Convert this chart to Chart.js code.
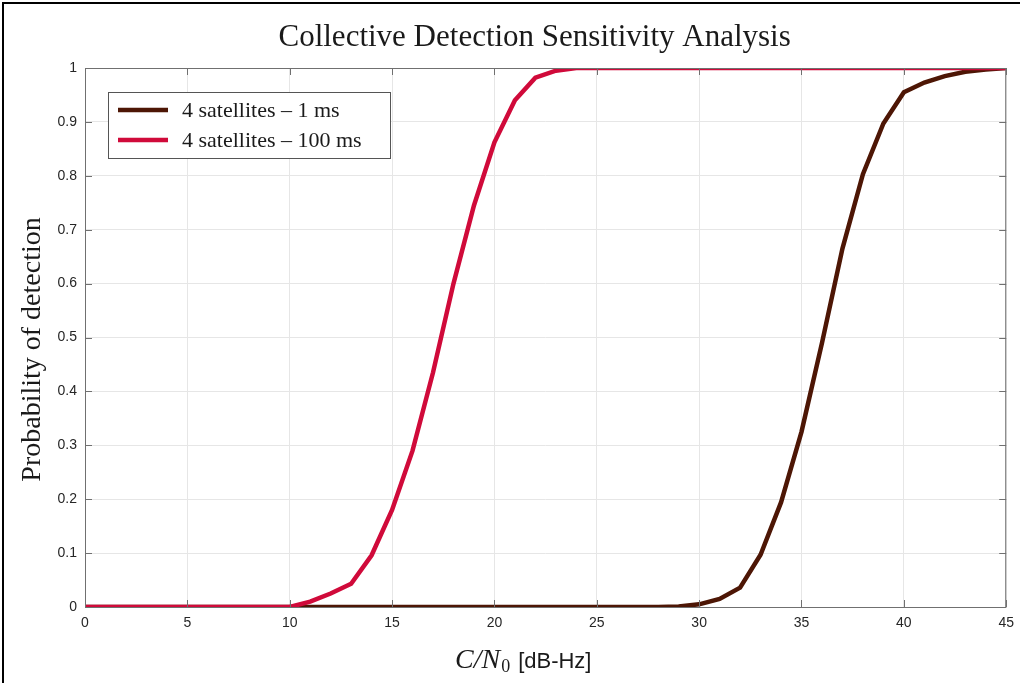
<!DOCTYPE html>
<html lang="en">
  <head>
    <meta charset="UTF-8" />
    <title>Collective Detection Sensitivity Analysis</title>
    <script src="https://cdn.jsdelivr.net/npm/chart.js"></script>
    <style>
      html, body { margin: 0; padding: 0; background: #fff; }
      #wrap { width: 1022px; height: 683px; position: relative; }
    </style>
  </head>
  <body>
    <div id="wrap">
      <canvas id="chart" width="1022" height="683"></canvas>
    </div>

    <script>
      // C/N0 values (dB-Hz)
      const cn0 = [0, 1, 2, 3, 4, 5, 6, 7, 8, 9, 10, 11, 12, 13, 14, 15, 16, 17, 18, 19, 20, 21, 22,
        23, 24, 25, 26, 27, 28, 29, 30, 31, 32, 33, 34, 35, 36, 37, 38, 39, 40, 41, 42, 43, 44, 45];

      // probability of detection, 4 satellites - 1 ms
      const pd1ms = [0, 0, 0, 0, 0, 0, 0, 0, 0, 0, 0, 0, 0, 0, 0, 0, 0, 0, 0, 0, 0, 0, 0,
        0, 0, 0, 0, 0, 0, 0.001, 0.005, 0.015, 0.036, 0.097, 0.194, 0.325, 0.49, 0.665, 0.803, 0.897, 0.955,
        0.973, 0.985, 0.993, 0.997, 1];

      // probability of detection, 4 satellites - 100 ms
      const pd100ms = [0, 0, 0, 0, 0, 0, 0, 0, 0, 0, 0, 0.01, 0.025, 0.043, 0.096, 0.18, 0.29, 0.435, 0.6, 0.745, 0.862, 0.94, 0.982,
        0.995, 1, 1, 1, 1, 1, 1, 1, 1, 1, 1, 1, 1, 1, 1, 1, 1, 1, 1, 1, 1, 1, 1];

      const seriesLabels = ["4 satellites \u2013 1 ms", "4 satellites \u2013 100 ms"];
      const seriesColors = ["#4d1605", "#d00a3a"];
      const xTicks = [0, 5, 10, 15, 20, 25, 30, 35, 40, 45];
      const yTicks = [0, 0.1, 0.2, 0.3, 0.4, 0.5, 0.6, 0.7, 0.8, 0.9, 1];

      const titleText = "Collective Detection Sensitivity Analysis";
      const yTitle = "Probability of detection";

      const serif = "'Liberation Serif', 'DejaVu Serif', serif";
      const sans = "'Liberation Sans', Arial, sans-serif";
      const boxColor = "#707070";

      // Box, inward ticks, titles and legend
      const decor = {
        id: "decor",
        afterDraw(chart) {
          const ctx = chart.ctx;
          const a = chart.chartArea;
          const xs = chart.scales.x, ys = chart.scales.y;
          ctx.save();

          // frame of the figure
          ctx.fillStyle = "#000";
          ctx.fillRect(2, 2, 1018, 2);
          ctx.fillRect(2, 2, 2, 681);

          // axes box
          ctx.strokeStyle = boxColor;
          ctx.lineWidth = 1;
          ctx.strokeRect(a.left + 0.5, a.top + 0.5, a.right - a.left - 1, a.bottom - a.top);

          // inward ticks on all sides
          ctx.beginPath();
          xTicks.forEach(v => {
            const px = Math.round(xs.getPixelForValue(v)) + 0.5;
            ctx.moveTo(px, a.bottom); ctx.lineTo(px, a.bottom - 7);
            ctx.moveTo(px, a.top); ctx.lineTo(px, a.top + 7);
          });
          yTicks.forEach(v => {
            const py = Math.round(ys.getPixelForValue(v)) + 0.5;
            ctx.moveTo(a.left, py); ctx.lineTo(a.left + 7, py);
            ctx.moveTo(a.right, py); ctx.lineTo(a.right - 7, py);
          });
          ctx.stroke();

          // figure title
          ctx.fillStyle = "#1a1a1a";
          ctx.textAlign = "center";
          ctx.textBaseline = "middle";
          ctx.font = "31px " + serif;
          ctx.fillText(titleText, (a.left + a.right) / 2 - 11, 38);

          // y title
          ctx.save();
          ctx.translate(33, (a.top + a.bottom) / 2 + 12);
          ctx.rotate(-Math.PI / 2);
          ctx.font = "28px " + serif;
          ctx.fillText(yTitle, 0, 0);
          ctx.restore();

          // x title: C/N0 [dB-Hz]
          ctx.textAlign = "left";
          ctx.textBaseline = "alphabetic";
          const partA = "C/N";
          const partB = "[dB-Hz]";
          ctx.font = "italic 28px " + serif;
          const wA = ctx.measureText(partA).width;
          ctx.font = "18px " + serif;
          const wSub = ctx.measureText("0").width;
          ctx.font = "22px " + sans;
          const wB = ctx.measureText(partB).width;
          let x0 = 455;
          const base = 668;
          ctx.font = "italic 28px " + serif;
          ctx.fillText(partA, x0, base);
          ctx.font = "18px " + serif;
          ctx.fillText("0", x0 + wA + 1, base + 4);
          ctx.font = "22px " + sans;
          ctx.fillText(partB, x0 + wA + wSub + 9, base);

          // legend
          const lx = 108, ly = 92, lw = 282, lh = 66;
          ctx.fillStyle = "#fff";
          ctx.fillRect(lx, ly, lw, lh);
          ctx.strokeStyle = "#555";
          ctx.strokeRect(lx + 0.5, ly + 0.5, lw, lh);
          ctx.font = "22px " + serif;
          ctx.textBaseline = "middle";
          seriesLabels.forEach((lab, i) => {
            const yy = ly + 18 + i * 30;
            ctx.strokeStyle = seriesColors[i];
            ctx.lineWidth = 4.5;
            ctx.beginPath();
            ctx.moveTo(lx + 10, yy);
            ctx.lineTo(lx + 60, yy);
            ctx.stroke();
            ctx.fillStyle = "#1a1a1a";
            ctx.fillText(lab, lx + 74, yy + 1);
          });

          ctx.restore();
        }
      };

      new Chart(document.getElementById("chart"), {
        type: "line",
        data: {
          labels: cn0,
          datasets: [
            {
              label: seriesLabels[0],
              data: cn0.map((x, i) => ({ x: x, y: pd1ms[i] })),
              borderColor: seriesColors[0],
              borderWidth: 4.5,
              pointRadius: 0,
              tension: 0,
              order: 2
            },
            {
              label: seriesLabels[1],
              data: cn0.map((x, i) => ({ x: x, y: pd100ms[i] })),
              borderColor: seriesColors[1],
              borderWidth: 4.5,
              pointRadius: 0,
              tension: 0,
              order: 1
            }
          ]
        },
        options: {
          responsive: false,
          animation: false,
          layout: { padding: { left: 0, right: 8, top: 68, bottom: 0 } },
          plugins: {
            legend: { display: false },
            title: { display: false },
            tooltip: { enabled: false }
          },
          scales: {
            x: {
              type: "linear",
              min: 0,
              max: 45,
              afterFit: s => { s.height = 76; },
              afterBuildTicks: s => { s.ticks = xTicks.map(v => ({ value: v })); },
              grid: { color: "#e6e6e6", drawTicks: false },
              border: { display: false },
              ticks: {
                padding: 8,
                color: "#262626",
                font: { family: sans, size: 14 }
              }
            },
            y: {
              min: 0,
              max: 1,
              afterFit: s => { s.width = 85; },
              afterBuildTicks: s => { s.ticks = yTicks.map(v => ({ value: v })); },
              grid: { color: "#e6e6e6", drawTicks: false },
              border: { display: false },
              ticks: {
                padding: 8,
                color: "#262626",
                font: { family: sans, size: 14 },
                callback: v => String(Math.round(v * 10) / 10)
              }
            }
          }
        },
        plugins: [decor]
      });
    </script>
  </body>
</html>
